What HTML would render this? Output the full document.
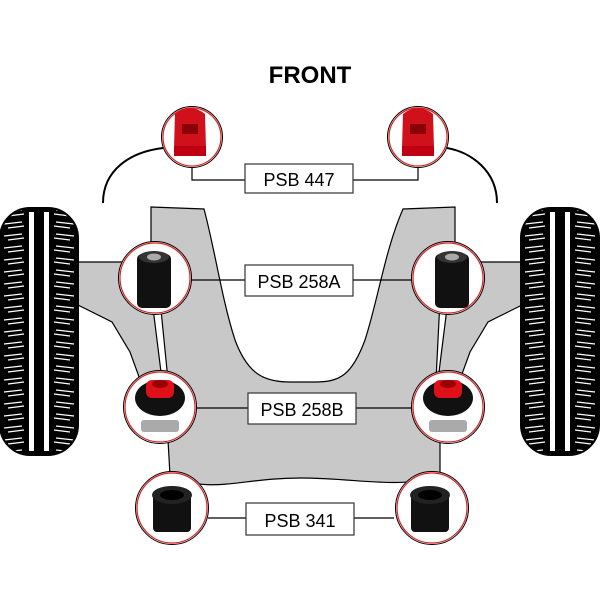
<!DOCTYPE html>
<html><head><style>
body{margin:0;background:#fff;}
svg{display:block;font-family:"Liberation Sans",sans-serif;}
</style></head><body>
<svg width="600" height="600" viewBox="0 0 600 600">
<defs>
<pattern id="tread" width="78" height="12" patternUnits="userSpaceOnUse">
<rect width="78" height="12" fill="#000"/>
<path d="M4 4 L22 2 M8 8 L24 6 M56 2 L74 4 M54 6 L70 8" stroke="#fff" stroke-width="1.3"/>
</pattern>
<g id="tire">
<rect x="0" y="0" width="78" height="247" rx="30" fill="url(#tread)" stroke="#000" stroke-width="2"/>
<rect x="29" y="4" width="5" height="239" fill="#fff"/>
<rect x="44" y="4" width="5" height="239" fill="#fff"/>
</g>
<g id="b447">
<path d="M-15,-20 Q0,-32 15,-20 L16,14 L-16,14 Z" fill="#d0101a"/>
<rect x="-8" y="-10" width="16" height="10" fill="#8a0008"/>
<rect x="-16" y="12" width="32" height="10" fill="#c00012"/>
</g>
<g id="b258a">
<rect x="-17" y="-26" width="34" height="54" rx="5" fill="#111"/>
<ellipse cx="0" cy="-23" rx="15" ry="6" fill="#333"/>
<ellipse cx="0" cy="-23" rx="7" ry="3.5" fill="#aaa"/>
</g>
<g id="b258b">
<ellipse cx="0" cy="-2" rx="25" ry="18" fill="#111"/>
<rect x="-14" y="-20" width="28" height="18" rx="6" fill="#e0101a"/>
<ellipse cx="0" cy="-16" rx="8" ry="4" fill="#900"/>
<rect x="-19" y="20" width="38" height="12" rx="3" fill="#aaa"/>
</g>
<g id="b341">
<rect x="-19" y="-14" width="38" height="38" rx="4" fill="#111"/>
<ellipse cx="0" cy="-13" rx="20" ry="9" fill="#222"/>
<ellipse cx="0" cy="-13" rx="12" ry="5" fill="#000"/>
</g>
</defs>

<path d="M78,262 L130,262 L152,300 L162,380 L142,385 L130,352 L112,322 L78,305 Z" fill="#c8c8c8" stroke="#000" stroke-width="1.2"/>
<path d="M522,262 L470,262 L448,300 L438,380 L458,385 L470,352 L488,322 L522,305 Z" fill="#c8c8c8" stroke="#000" stroke-width="1.2"/>
<path d="M151,207 L204,209 C215,250 222,300 235,340 C248,375 265,382 290,382 L315,382 C340,382 352,375 365,340 C378,300 385,250 403,209 L455,207 L455,245 L440,300 L436,380 L440,440 L440,475 C400,490 360,478 300,478 C240,478 210,495 170,475 L168,440 L168,380 L160,300 L151,245 Z" fill="#c8c8c8" stroke="#000" stroke-width="1.2"/>

<path d="M103,203 C103,170 130,152 163,148" fill="none" stroke="#000" stroke-width="2"/>
<path d="M497,203 C497,170 470,152 447,148" fill="none" stroke="#000" stroke-width="2"/>

<use href="#tire" x="0" y="208"/>
<use href="#tire" x="521" y="208"/>

<g stroke="#000" stroke-width="1.2" fill="none">
<path d="M192,165 V180 H245 M418,165 V180 H353"/>
<path d="M190,280 H245 M353,280 H413"/>
<path d="M195,408 H248 M356,408 H413"/>
<path d="M208,518 H246 M354,518 H394"/>
</g>

<g fill="#fff" stroke="#000" stroke-width="1">
<circle cx="192" cy="137" r="30.5"/><circle cx="418" cy="137" r="30.5"/>
<circle cx="155" cy="278" r="36.5"/><circle cx="448" cy="278" r="36.5"/>
<circle cx="160" cy="407" r="36.5"/><circle cx="448" cy="407" r="36.5"/>
<circle cx="172" cy="508" r="36.5"/><circle cx="432" cy="508" r="36.5"/>
</g>
<g fill="none" stroke="#e02020" stroke-width="1.2">
<circle cx="192" cy="137" r="29"/><circle cx="418" cy="137" r="29"/>
<circle cx="155" cy="278" r="35"/><circle cx="448" cy="278" r="35"/>
<circle cx="160" cy="407" r="35"/><circle cx="448" cy="407" r="35"/>
<circle cx="172" cy="508" r="35"/><circle cx="432" cy="508" r="35"/>
</g>
<use href="#b447" x="190" y="134"/><use href="#b447" x="418" y="134"/>
<use href="#b258a" x="154" y="280"/><use href="#b258a" x="452" y="280"/>
<use href="#b258b" x="160" y="400"/><use href="#b258b" x="448" y="400"/>
<use href="#b341" x="172" y="508"/><use href="#b341" x="430" y="508"/>

<g fill="#fff" stroke="#333" stroke-width="1.2">
<rect x="245" y="164" width="108" height="29"/>
<rect x="245" y="265" width="108" height="31"/>
<rect x="248" y="393" width="108" height="31"/>
<rect x="246" y="503" width="108" height="32"/>
</g>
<g font-size="18" text-anchor="middle" fill="#000">
<text x="299" y="186">PSB 447</text>
<text x="299" y="288">PSB 258A</text>
<text x="302" y="416">PSB 258B</text>
<text x="300" y="527">PSB 341</text>
</g>
<text x="310" y="83" font-size="24" font-weight="bold" text-anchor="middle">FRONT</text>
</svg>
</body></html>
